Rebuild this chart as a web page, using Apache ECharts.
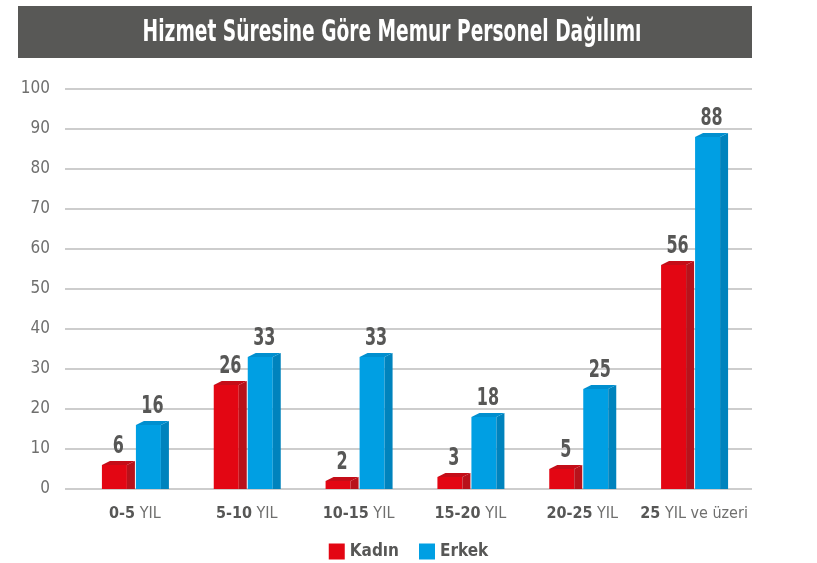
<!DOCTYPE html>
<html>
<head>
<meta charset="utf-8">
<script src="https://cdn.jsdelivr.net/npm/echarts@6/dist/echarts.min.js"></script>
<style>
  html, body { margin: 0; padding: 0; background: #fff; }
  #chart { width: 817px; height: 563px; }
</style>
</head>
<body>
<div id="chart"></div>
<script>
var categories = ['0-5 YIL', '5-10 YIL', '10-15 YIL', '15-20 YIL', '20-25 YIL', '25 YIL ve üzeri']
var kadin = [6, 26, 2, 3, 5, 56]
var erkek = [16, 33, 33, 18, 25, 88]
var yTicks = [0, 100, 10] // min, max, interval

var FONT = '"DejaVu Sans Condensed", "Liberation Sans Narrow", sans-serif'
var chart = echarts.init(document.getElementById('chart'))

// 3d-ish bar: front face + side + top, slot 0 = left (red), 1 = right (blue)
function bar3d(slot, front, side, top) {
  return function (params, api) {
    var base = api.coord([api.value(0), 0])
    var p = api.coord([api.value(0), api.value(1)])
    var fw = 25, dx = 8, dy = 4
    var x0 = slot === 0 ? base[0] - 33 : base[0] + 1
    var x1 = x0 + fw
    var yb = base[1], yt = p[1]
    return {
      type: 'group',
      children: [
        { type: 'rect', shape: { x: x0, y: yt, width: fw, height: yb - yt }, style: { fill: front } },
        { type: 'polygon', shape: { points: [[x1, yt], [x1 + dx, yt - dy], [x1 + dx, yb], [x1, yb]] }, style: { fill: side } },
        { type: 'polygon', shape: { points: [[x0, yt], [x0 + dx, yt - dy], [x1 + dx, yt - dy], [x1, yt]] }, style: { fill: top } },
        {
          type: 'text',
          x: x0 + (fw + dx) / 2,
          y: yt - dy - 2,
          scaleX: 0.74,
          style: {
            x: 0, y: 0,
            text: String(api.value(1)),
            align: 'center', verticalAlign: 'bottom',
            fill: '#575756', font: 'bold 24px ' + FONT
          }
        }
      ]
    }
  }
}

chart.setOption({
  animation: false,
  graphic: [
    { type: 'rect', shape: { x: 18, y: 6, width: 734, height: 52 }, style: { fill: '#585856' } },
    {
      type: 'text', x: 392, y: 33, scaleX: 0.69,
      style: {
        x: 0, y: 0,
        text: 'Hizmet Süresine Göre Memur Personel Dağılımı',
        align: 'center', verticalAlign: 'middle',
        fill: '#fff', font: 'bold 30px ' + FONT
      }
    }
  ],
  legend: {
    data: ['Kadın', 'Erkek'],
    left: 'center',
    top: 538,
    icon: 'rect',
    itemWidth: 16,
    itemHeight: 16,
    itemGap: 20,
    textStyle: { fontFamily: FONT, fontSize: 17, fontWeight: 'bold', color: '#575756' }
  },
  grid: [
    { left: 65, right: 65, top: 89, bottom: 74 },
    { left: 79, right: 67, top: 89, bottom: 74 }
  ],
  xAxis: [
    { gridIndex: 0, type: 'value', show: false, min: 0, max: 1 },
    {
      gridIndex: 1,
      type: 'category',
      data: categories,
      axisLine: { show: false },
      axisTick: { show: false },
      axisLabel: {
        interval: 0,
        margin: 17,
        formatter: function (v) {
          var i = v.indexOf(' ')
          return '{b|' + v.slice(0, i) + '}{r|' + v.slice(i) + '}'
        },
        rich: {
          b: { fontFamily: FONT, fontSize: 16, fontWeight: 'bold', color: '#575756' },
          r: { fontFamily: FONT, fontSize: 16, color: '#6f6f6e' }
        }
      }
    }
  ],
  yAxis: [
    {
      gridIndex: 0,
      type: 'value',
      min: yTicks[0],
      max: yTicks[1],
      interval: yTicks[2],
      axisLine: { show: false },
      axisTick: { show: false },
      splitLine: { lineStyle: { color: '#bcbcbc', width: 1.5 } },
      axisLabel: { margin: 15, fontFamily: FONT, fontSize: 17, color: '#6f6f6e' }
    },
    { gridIndex: 1, type: 'value', min: yTicks[0], max: yTicks[1], show: false }
  ],
  series: [
    {
      name: 'Kadın',
      type: 'custom',
      xAxisIndex: 1,
      yAxisIndex: 1,
      itemStyle: { color: '#e30613' },
      renderItem: bar3d(0, '#e30613', '#b8121b', '#c40d18'),
      data: kadin.map(function (v, i) { return [i, v] })
    },
    {
      name: 'Erkek',
      type: 'custom',
      xAxisIndex: 1,
      yAxisIndex: 1,
      itemStyle: { color: '#009fe3' },
      renderItem: bar3d(1, '#009fe3', '#0083bd', '#008fcf'),
      data: erkek.map(function (v, i) { return [i, v] })
    }
  ]
})
</script>
</body>
</html>
